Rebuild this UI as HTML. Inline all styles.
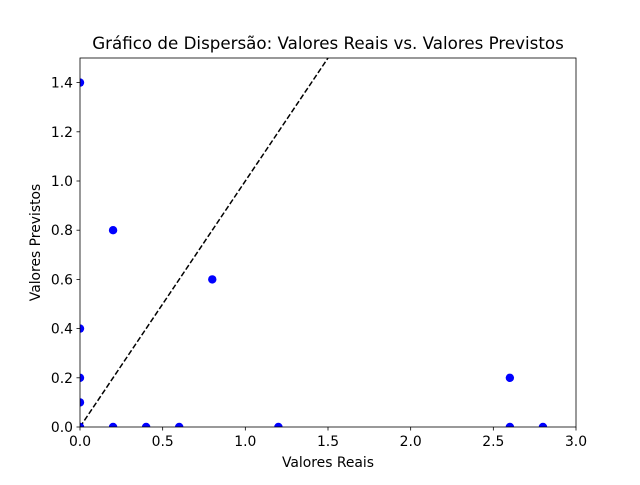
<!DOCTYPE html>
<html><head><meta charset="utf-8"><style>
body{margin:0;background:#fff;}
svg text{font-family:"DejaVu Sans","Liberation Sans",sans-serif;}
</style></head><body>
<svg id="c" width="640" height="480" xmlns="http://www.w3.org/2000/svg"></svg>
<script>
const xVals=[0,0,0,0,0,0.2,0.8,0.2,0.4,0.6,1.2,2.6,2.6,2.8];
const yVals=[1.4,0.4,0.2,0.1,0,0.8,0.6,0,0,0,0,0.2,0,0];
const xTicks=[0,0.5,1,1.5,2,2.5,3];
const yTicks=[0,0.2,0.4,0.6,0.8,1,1.2,1.4];
const xTickLabels=["0.0","0.5","1.0","1.5","2.0","2.5","3.0"];
const yTickLabels=["0.0","0.2","0.4","0.6","0.8","1.0","1.2","1.4"];
const L=80,R=576,T=58,B=427,xMax=3,yMax=1.5;
const sx=v=>L+v/xMax*(R-L);
const sy=v=>B-v/yMax*(B-T);
const svg=document.getElementById('c');
const NS='http://www.w3.org/2000/svg';
function mk(tag,attrs,parent){const e=document.createElementNS(NS,tag);for(const k in attrs)e.setAttribute(k,attrs[k]);(parent||svg).appendChild(e);return e;}
const defs=mk('defs',{});
const cp=mk('clipPath',{id:'clip'},defs);
mk('rect',{x:L,y:T,width:R-L,height:B-T},cp);
const diag=mk('line',{x1:sx(0),y1:sy(0),x2:sx(3),y2:sy(3),stroke:'#000','stroke-width':1.5,'stroke-dasharray':'5.5,2.4','clip-path':'url(#clip)'});


for(let i=0;i<xVals.length;i++){
  const c=mk('circle',{cx:sx(xVals[i]),cy:sy(yVals[i]),r:4.2,fill:'#0000ff','clip-path':'url(#clip)'});
  
  
}
const frame=mk('rect',{x:L,y:T,width:R-L,height:B-T,fill:'none',stroke:'#000','stroke-width':0.8});


xTicks.forEach((v,i)=>{
  mk('line',{x1:sx(v),x2:sx(v),y1:B,y2:B+3.5,stroke:'#000','stroke-width':0.8});
  const t=mk('text',{x:sx(v),y:B+19,'font-size':13.9,'text-anchor':'middle'});t.textContent=xTickLabels[i];
  
  
});
yTicks.forEach((v,i)=>{
  mk('line',{x1:L-3.5,x2:L,y1:sy(v),y2:sy(v),stroke:'#000','stroke-width':0.8});
  const t=mk('text',{x:L-7,y:sy(v)+5,'font-size':13.9,'text-anchor':'end'});t.textContent=yTickLabels[i];
  
  
});
const xt=mk('text',{x:(L+R)/2,y:467,'font-size':13.9,'text-anchor':'middle'});xt.textContent='Valores Reais';


const yt=mk('text',{x:0,y:0,'font-size':13.9,'text-anchor':'middle',transform:`translate(40,${(T+B)/2}) rotate(-90)`});yt.textContent='Valores Previstos';


const tt=mk('text',{x:(L+R)/2,y:49,'font-size':16.7,'text-anchor':'middle'});tt.textContent='Gráfico de Dispersão: Valores Reais vs. Valores Previstos';


</script>
</body></html>
